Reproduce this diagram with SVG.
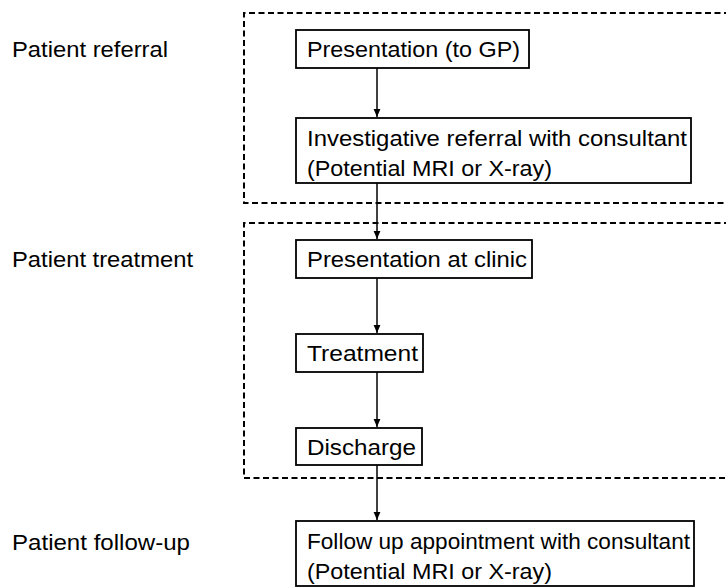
<svg xmlns="http://www.w3.org/2000/svg" width="726" height="588" viewBox="0 0 726 588">
<style>
.bg{fill:#fff}
.grp{fill:none;stroke:#000;stroke-width:2;stroke-dasharray:6 3.5}
.box{fill:#fff;stroke:#000;stroke-width:1.8}
.t{font-family:"Liberation Sans",Arial,sans-serif;font-size:22.5px;fill:#000}
.c{stroke:#000;stroke-width:1.5;fill:none}
</style>
<defs>
<marker id="ah" markerWidth="9" markerHeight="9" refX="8" refY="4" orient="auto" markerUnits="userSpaceOnUse">
<path d="M0,0.6 L8,4 L0,7.4 Z" fill="#000"/>
</marker>
</defs>
<rect class="bg" x="0" y="0" width="726" height="588"/>
<g id="groups">
<path class="grp" d="M730,13 H244 V203 H730"/>
<path class="grp" d="M730,223 H244 V478 H730"/>
</g>
<g id="labels">
<text class="t" x="12" y="57" textLength="156" lengthAdjust="spacingAndGlyphs">Patient referral</text>
<text class="t" x="12" y="267" textLength="181" lengthAdjust="spacingAndGlyphs">Patient treatment</text>
<text class="t" x="12" y="550" textLength="178" lengthAdjust="spacingAndGlyphs">Patient follow-up</text>
</g>
<g id="connectors">
<line class="c" x1="377" y1="68" x2="377" y2="117" marker-end="url(#ah)"/>
<line class="c" x1="377" y1="183" x2="377" y2="239" marker-end="url(#ah)"/>
<line class="c" x1="377" y1="278" x2="377" y2="333" marker-end="url(#ah)"/>
<line class="c" x1="377" y1="372" x2="377" y2="427" marker-end="url(#ah)"/>
<line class="c" x1="377" y1="465" x2="377" y2="520" marker-end="url(#ah)"/>
</g>
<g id="n1">
<rect class="box" x="296" y="30" width="233" height="38"/>
<text class="t" x="307" y="57" textLength="213" lengthAdjust="spacingAndGlyphs">Presentation (to GP)</text>
</g>
<g id="n2">
<rect class="box" x="296" y="118" width="395" height="65"/>
<text class="t" x="307" y="146" textLength="380" lengthAdjust="spacingAndGlyphs">Investigative referral with consultant</text>
<text class="t" x="307" y="176" textLength="245" lengthAdjust="spacingAndGlyphs">(Potential MRI or X-ray)</text>
</g>
<g id="n3">
<rect class="box" x="296" y="240" width="236" height="38"/>
<text class="t" x="307" y="267" textLength="220" lengthAdjust="spacingAndGlyphs">Presentation at clinic</text>
</g>
<g id="n4">
<rect class="box" x="296" y="334" width="127" height="38"/>
<text class="t" x="307" y="361" textLength="111" lengthAdjust="spacingAndGlyphs">Treatment</text>
</g>
<g id="n5">
<rect class="box" x="296" y="428" width="126" height="37"/>
<text class="t" x="307" y="455" textLength="109" lengthAdjust="spacingAndGlyphs">Discharge</text>
</g>
<g id="n6">
<rect class="box" x="296" y="521" width="398" height="65"/>
<text class="t" x="307" y="549" textLength="383" lengthAdjust="spacingAndGlyphs">Follow up appointment with consultant</text>
<text class="t" x="307" y="579" textLength="245" lengthAdjust="spacingAndGlyphs">(Potential MRI or X-ray)</text>
</g>
</svg>
